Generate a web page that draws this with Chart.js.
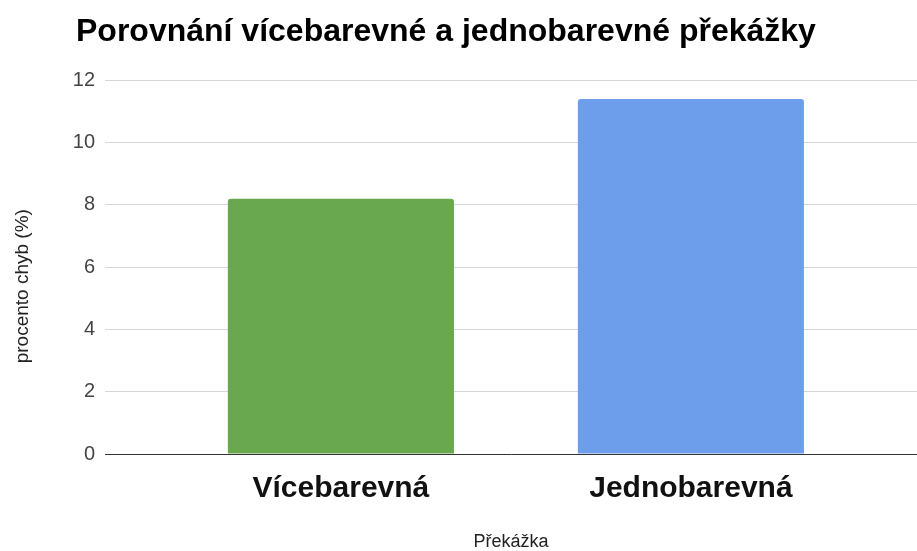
<!DOCTYPE html>
<html>
<head>
<meta charset="utf-8">
<script src="https://cdn.jsdelivr.net/npm/chart.js@4.4.1/dist/chart.umd.min.js"></script>
<style>
  html, body { margin: 0; padding: 0; background: #fff; }
  #wrap { width: 917px; height: 551px; }
</style>
</head>
<body>
<div id="wrap"><canvas id="obstacle-chart"></canvas></div>
<script>
  const categories = ['Vícebarevná', 'Jednobarevná'];
  const errorRates = [8.2, 11.4];
  const barColors = ['#6aa84f', '#6d9eeb'];
  const yTicks = [0, 2, 4, 6, 8, 10, 12];

  const ctx = document.getElementById('obstacle-chart');
  const fontFamily = 'Liberation Sans, Arial, sans-serif';

  // title sits a bit right of the canvas edge, like the original
  const titleShift = {
    id: 'titleShift',
    afterLayout(chart) {
      if (chart.titleBlock) chart.titleBlock.left = 76;
    }
  };

  new Chart(ctx, {
    type: 'bar',
    data: {
      datasets: [{
        data: errorRates.map(function (v, i) { return { x: i, y: v }; }),
        backgroundColor: barColors,
        borderRadius: 3,
        borderSkipped: 'start',
        barPercentage: 0.646,
        categoryPercentage: 1
      }]
    },
    options: {
      responsive: true,
      maintainAspectRatio: false,
      animation: false,
      layout: { padding: 0 },
      plugins: {
        legend: { display: false },
        tooltip: { enabled: false },
        title: {
          display: true,
          text: 'Porovnání vícebarevné a jednobarevné překážky',
          align: 'start',
          color: '#000',
          font: { family: fontFamily, size: 32, weight: 'bold' },
          padding: { top: 13, bottom: 29 }
        }
      },
      scales: {
        x: {
          type: 'linear',
          offset: false,
          min: -0.674,
          max: 1.646,
          grid: { display: false, drawTicks: false },
          border: { display: true, color: '#333', width: 1 },
          afterBuildTicks: function (scale) {
            scale.ticks = categories.map(function (c, i) { return { value: i }; });
          },
          afterFit: function (scale) { scale.height = 97; },
          ticks: {
            padding: 17,
            maxRotation: 0,
            color: '#111',
            font: { family: fontFamily, size: 30, weight: 'bold' },
            callback: function (value) { return categories[value]; }
          },
          title: {
            display: true,
            text: 'Překážka',
            color: '#222',
            font: { family: fontFamily, size: 18, lineHeight: 1 },
            padding: { top: 0, bottom: 0 }
          }
        },
        y: {
          min: 0,
          max: 12,
          afterBuildTicks: function (scale) {
            scale.ticks = yTicks.map(function (v) { return { value: v }; });
          },
          afterFit: function (scale) { scale.width = 105; },
          grid: { color: '#d6d6d6', lineWidth: 1, drawTicks: false },
          border: { display: false },
          ticks: {
            padding: 10,
            color: '#444',
            font: { family: fontFamily, size: 20 }
          },
          title: {
            display: true,
            text: 'procento chyb (%)\u2003\u2003',
            color: '#222',
            font: { family: fontFamily, size: 19 },
            padding: { top: 11, bottom: 0 }
          }
        }
      }
    },
    plugins: [titleShift]
  });
</script>
</body>
</html>
